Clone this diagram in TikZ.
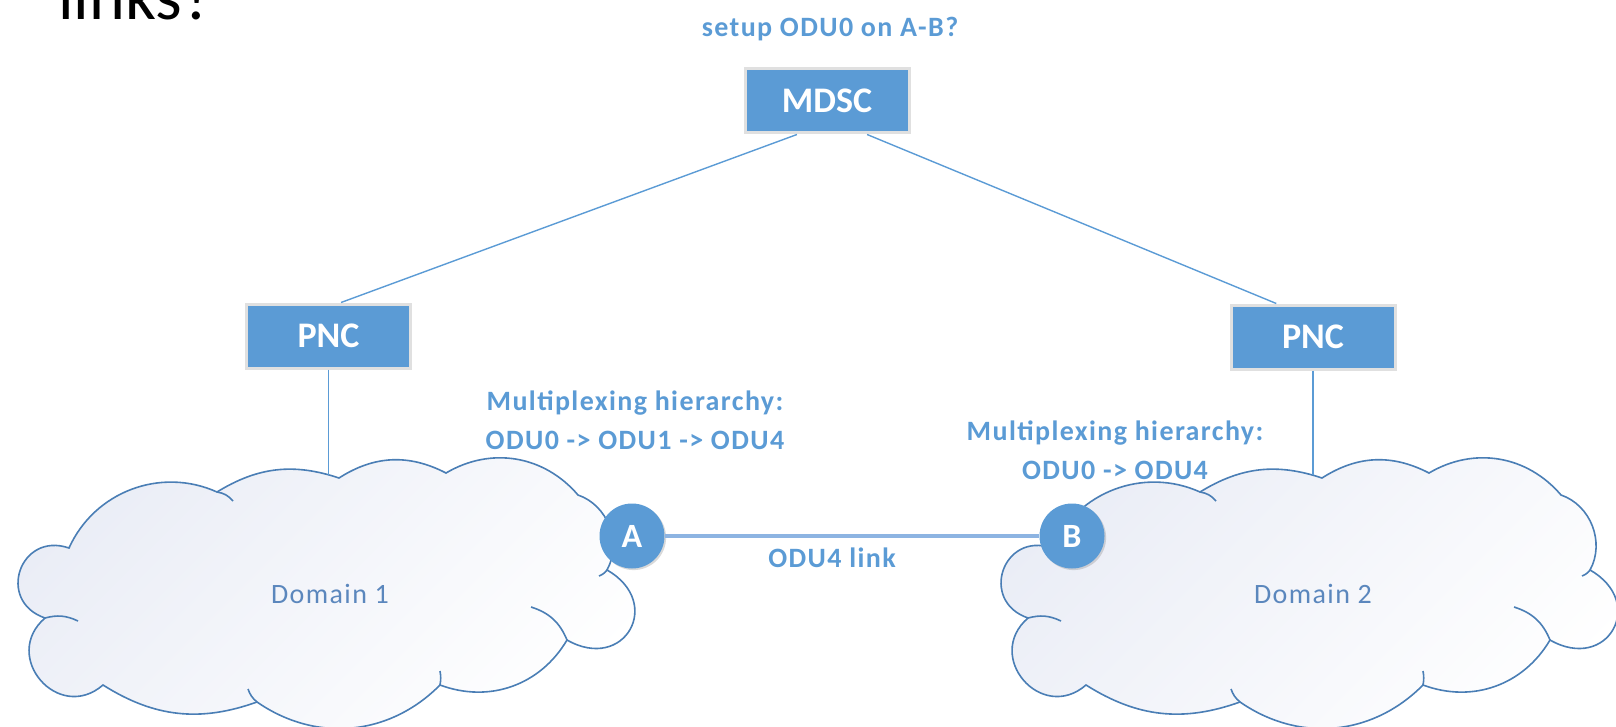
\documentclass[tikz,border=0pt]{standalone}
\usepackage{fontspec}
\setmainfont{Carlito}
\newfontfamily\lblfont[LetterSpace=5]{Carlito}
\usetikzlibrary{calc,shadows}

\definecolor{boxblue}{HTML}{5B9BD5}
\definecolor{lblblue}{HTML}{5B9BD5}
\definecolor{wireblue}{HTML}{5B9BD5}
\definecolor{linkblue}{HTML}{8DB4E2}
\definecolor{cloudline}{HTML}{4A7EB5}
\definecolor{cloudtint}{HTML}{EAEDF6}
\definecolor{domtext}{HTML}{5B87BD}

% cloud outline, drawn where Domain 1 sits
\newcommand\domaincloud{%
  \path[cloudshape] (45,618)
    to[bend left=90,looseness=1.8] (69,548)
    to[bend left=45] (217,492)
    to[bend left=25] (339,478)
    to[bend left=30] (446,473)
    to[bend left=40] (578,495)
    to[bend left=50] (607,570)
    to[bend left=90,looseness=2.1] (567,640)
    to[bend left=40] (440,685)
    to[bend left=40] (257,702)
    to[bend left=26] (103,685)
    to[bend left=90,looseness=1.7] (45,618) -- cycle;
  \draw[cloudtail] (45,618) to[bend left=20] (78,621);
  \draw[cloudtail] (217,492) to[bend left=20] (233,501);
  \draw[cloudtail] (531,607) to[bend left=25] (567,640);
  \draw[cloudtail] (440,671) to[bend left=10] (440,685);
  \draw[cloudtail] (257,702) to[bend left=15] (248,689);
  \draw[cloudtail] (607,570) to[bend left=15] (599,576);
}

\begin{document}
\begin{tikzpicture}[
        x=0.5pt, y=-0.5pt,
        wire/.style={draw=wireblue, line width=0.7pt},
        odulink/.style={draw=linkblue, line width=1.8pt},
        cloudshape/.style={draw=cloudline, line width=0.8pt, top color=cloudtint, bottom color=white, shading angle=45},
        cloudtail/.style={draw=cloudline, line width=0.8pt}
    ]
    \tikzset{
        ctrlbox/.style = {rectangle, fill=boxblue, draw=black!12, line width=1.5pt, text=white, minimum width=82pt, minimum height=32pt, font=\bfseries\fontsize{18}{20}\selectfont},
        endpt/.style = {circle, fill=boxblue, text=white, minimum size=32.5pt, inner sep=0pt, font=\bfseries\fontsize{17}{19}\selectfont, drop shadow={shadow xshift=0.8pt, shadow yshift=-0.8pt, opacity=0.3}},
        lbl/.style = {text=lblblue, align=center, font=\lblfont\bfseries\fontsize{14}{19.5}\selectfont},
        domlbl/.style = {text=domtext, font=\lblfont\fontsize{14}{17}\selectfont},
    }
    \useasboundingbox (0,0) rectangle (1616,727);
    \clip (0,0) rectangle (1616,727);

    \domaincloud
    \begin{scope}[shift={(983,0)}]
        \domaincloud
    \end{scope}

    \node[anchor=base west, inner sep=0pt, font=\fontsize{34}{40}\selectfont] (title) at (58,20) {links?};
    \node[lbl] (ask) at (830,29) {setup ODU0 on A-B?};

    \node[ctrlbox] (mdsc) at (827,101) {MDSC};
    \node[ctrlbox] (pnc1) at (328.5,336) {PNC};
    \node[ctrlbox] (pnc2) at (1313,337) {PNC};
    \coordinate (d1top) at (328.5,475);
    \coordinate (d2top) at (1313,475);

    \node[lbl] (hier1) at (635,420) {Multiplexing hierarchy:\\ODU0 -> ODU1 -> ODU4};
    \node[lbl] (hier2) at (1115,450) {Multiplexing hierarchy:\\ODU0 -> ODU4};
    \node[domlbl] (dom1) at (330,594) {Domain 1};
    \node[domlbl] (dom2) at (1313,594) {Domain 2};

    \draw[wire] ($(mdsc.south west)!0.32!(mdsc.south east)$) -- ($(pnc1.north west)!0.575!(pnc1.north east)$);
    \draw[wire] ($(mdsc.south west)!0.74!(mdsc.south east)$) -- ($(pnc2.north west)!0.28!(pnc2.north east)$);
    \draw[wire] (pnc1.south) -- (d1top);
    \draw[wire] (pnc2.south) -- (d2top);

    \node[endpt] (a) at (632,536) {A};
    \node[endpt] (b) at (1072,536) {B};
    \draw[odulink] (a) -- (b);
    \node[lbl] (linklbl) at (832,558) {ODU4 link};
\end{tikzpicture}
\end{document}
